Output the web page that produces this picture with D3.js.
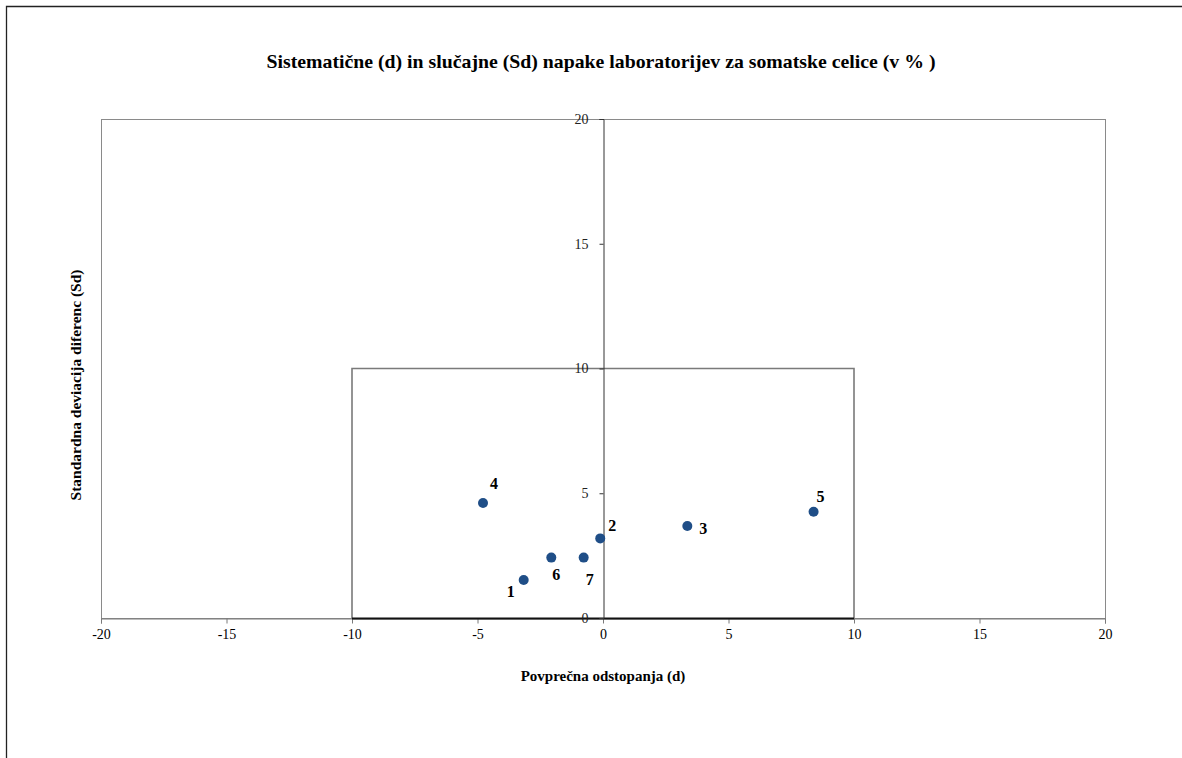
<!DOCTYPE html>
<html>
<head>
<meta charset="utf-8">
<script src="https://cdn.jsdelivr.net/npm/d3@7"></script>
<style>
  html, body { margin: 0; padding: 0; background: #fff; }
  svg { display: block; }
</style>
</head>
<body>
<svg id="chart" width="1182" height="758"></svg>
<script>
// ---- data ----
const labs = ["1", "2", "3", "4", "5", "6", "7"];
const dValues = [-3.16, -0.11, 3.36, -4.78, 8.39, -2.06, -0.77];
const sdValues = [1.52, 3.19, 3.69, 4.61, 4.26, 2.42, 2.42];
const xTicks = [-20, -15, -10, -5, 0, 5, 10, 15, 20];
const yTicks = [0, 5, 10, 15, 20];
const titleText = "Sistematične (d) in slučajne (Sd) napake laboratorijev za somatske celice (v % )";
const xTitle = "Povprečna odstopanja (d)";
const yTitle = "Standardna deviacija diferenc (Sd)";
// label placement (pixel offsets from marker)
const labelDx = [-13, 12, 16, 11, 7, 5, 6];
const labelDy = [17, -7, 8, -14, -10, 22, 27];

const svg = d3.select("#chart");
const serif = "'Liberation Serif', 'Times New Roman', serif";

// outer frame (top and left visible)
svg.append("path")
  .attr("d", "M6.5,758 L6.5,6.5 L1182,6.5")
  .attr("fill", "none").attr("stroke", "#222").attr("stroke-width", 1.3);

const L = 101, R = 1105, T = 119, B = 618;
const x = d3.scaleLinear().domain([-20, 20]).range([L, R]);
const y = d3.scaleLinear().domain([0, 20]).range([B, T]);

// plot area border
svg.append("rect")
  .attr("x", L + 0.5).attr("y", T + 0.5)
  .attr("width", R - L).attr("height", B - T)
  .attr("fill", "none").attr("stroke", "#8a8a8a").attr("stroke-width", 1);

// inner box  -10..10, 0..10
svg.append("path")
  .attr("d", `M${x(-10)},${y(0)} L${x(-10)},${y(10)} L${x(10)},${y(10)} L${x(10)},${y(0)}`)
  .attr("fill", "none").attr("stroke", "#7a7a7a").attr("stroke-width", 1.6);

// x axis
const xAxis = d3.axisBottom(x).tickValues(xTicks).tickSize(5).tickPadding(6)
  .tickFormat(d => d3.format("d")(d).replace("−", "-"));
const gx = svg.append("g").attr("transform", `translate(0,${B + 0.5})`).call(xAxis);
gx.select(".domain").attr("stroke", "#7a7a7a");
gx.selectAll(".tick line").attr("stroke", "#7a7a7a");
gx.selectAll("text").attr("font-family", serif).attr("font-size", 14).attr("fill", "#000");

// inner box bottom (dark)
svg.append("line")
  .attr("x1", x(-10)).attr("x2", x(10)).attr("y1", B + 0.5).attr("y2", B + 0.5)
  .attr("stroke", "#111").attr("stroke-width", 1.8);

// y axis at x=0
const yAxis = d3.axisLeft(y).tickValues(yTicks).tickSize(4).tickPadding(11);
const gy = svg.append("g").attr("transform", `translate(${x(0) + 0.5},0)`).call(yAxis);
gy.select(".domain").attr("stroke", "#333");
gy.selectAll(".tick line").attr("stroke", "#333");
gy.selectAll("text").attr("font-family", serif).attr("font-size", 14).attr("fill", "#222");

// points
svg.append("g").selectAll("circle")
  .data(labs.map((l, i) => ({ l, d: dValues[i], s: sdValues[i], i })))
  .join("circle")
  .attr("cx", p => x(p.d)).attr("cy", p => y(p.s)).attr("r", 5)
  .attr("fill", "#1f4e87");

// point labels
svg.append("g").selectAll("text")
  .data(labs.map((l, i) => ({ l, d: dValues[i], s: sdValues[i], i })))
  .join("text")
  .attr("x", p => x(p.d) + labelDx[p.i]).attr("y", p => y(p.s) + labelDy[p.i])
  .attr("text-anchor", "middle")
  .attr("font-family", serif).attr("font-weight", "bold").attr("font-size", 16)
  .attr("fill", "#000")
  .text(p => p.l);

// title
svg.append("text")
  .attr("x", 601).attr("y", 68).attr("text-anchor", "middle")
  .attr("font-family", serif).attr("font-weight", "bold").attr("font-size", 19)
  .attr("textLength", 669).attr("lengthAdjust", "spacingAndGlyphs")
  .text(titleText);

// x title
svg.append("text")
  .attr("x", 603).attr("y", 681).attr("text-anchor", "middle")
  .attr("font-family", serif).attr("font-weight", "bold").attr("font-size", 15)
  .text(xTitle);

// y title
svg.append("text")
  .attr("transform", `translate(81,385) rotate(-90)`).attr("text-anchor", "middle")
  .attr("font-family", serif).attr("font-weight", "bold").attr("font-size", 15.5)
  .text(yTitle);
</script>
</body>
</html>
